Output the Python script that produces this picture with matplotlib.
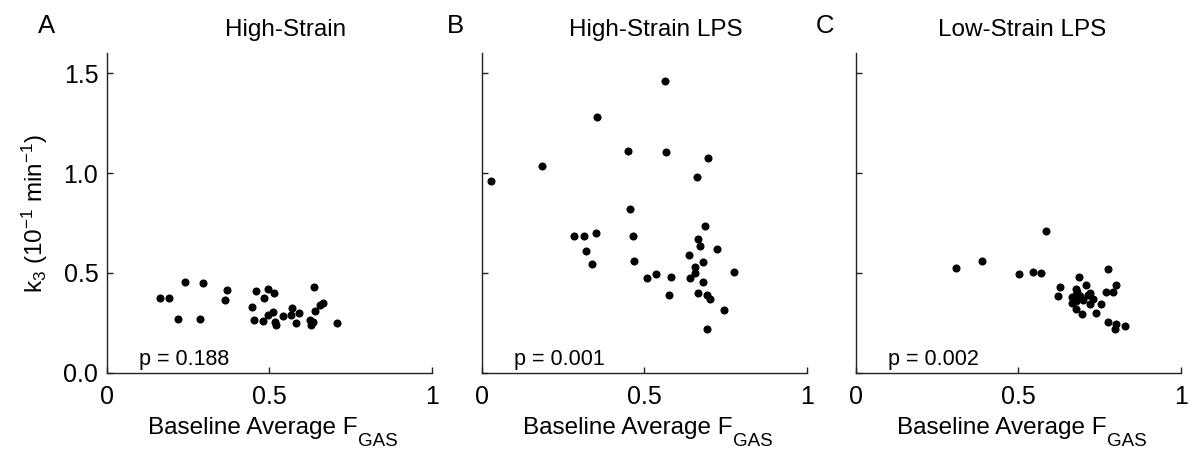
import matplotlib
matplotlib.use("Agg")
import matplotlib.pyplot as plt

plt.rcParams['font.family'] = ['Liberation Sans', 'DejaVu Sans']
plt.rcParams['mathtext.fontset'] = 'custom'
plt.rcParams['mathtext.rm'] = 'Liberation Sans'
plt.rcParams['mathtext.it'] = 'Liberation Sans:italic'
plt.rcParams['mathtext.bf'] = 'Liberation Sans:bold'

# ---- data ----
titles = ["High-Strain", "High-Strain LPS", "Low-Strain LPS"]
letters = ["A", "B", "C"]
p_values = ["p = 0.188", "p = 0.001", "p = 0.002"]

hs_x = [0.165, 0.193, 0.219, 0.241, 0.286, 0.296, 0.364, 0.370, 0.448, 0.452,
        0.459, 0.482, 0.484, 0.497, 0.497, 0.511, 0.515, 0.518, 0.520, 0.542,
        0.569, 0.566, 0.583, 0.593, 0.639, 0.640, 0.625, 0.630, 0.635, 0.656,
        0.667, 0.708]
hs_y = [0.372, 0.372, 0.267, 0.452, 0.270, 0.449, 0.365, 0.412, 0.327, 0.262,
        0.408, 0.260, 0.375, 0.418, 0.288, 0.305, 0.397, 0.255, 0.238, 0.285,
        0.322, 0.288, 0.248, 0.300, 0.427, 0.310, 0.263, 0.240, 0.255, 0.340,
        0.350, 0.250]

hsl_x = [0.028, 0.186, 0.354, 0.564, 0.451, 0.566, 0.695, 0.662, 0.456, 0.283,
         0.314, 0.351, 0.322, 0.338, 0.465, 0.470, 0.508, 0.536, 0.583, 0.577,
         0.638, 0.641, 0.655, 0.656, 0.666, 0.671, 0.686, 0.681, 0.681, 0.666,
         0.694, 0.702, 0.723, 0.692, 0.746, 0.776]
hsl_y = [0.962, 1.033, 1.282, 1.460, 1.110, 1.107, 1.078, 0.980, 0.818, 0.684,
         0.684, 0.699, 0.608, 0.547, 0.685, 0.560, 0.475, 0.492, 0.477, 0.389,
         0.592, 0.472, 0.527, 0.497, 0.672, 0.636, 0.735, 0.557, 0.453, 0.398,
         0.391, 0.368, 0.620, 0.217, 0.313, 0.505]

lsl_x = [0.308, 0.390, 0.585, 0.503, 0.546, 0.571, 0.776, 0.687, 0.630, 0.622,
         0.708, 0.802, 0.769, 0.792, 0.677, 0.720, 0.667, 0.689, 0.700, 0.730,
         0.664, 0.679, 0.720, 0.756, 0.679, 0.696, 0.738, 0.775, 0.802, 0.798,
         0.828, 0.682, 0.716, 0.677]
lsl_y = [0.522, 0.560, 0.712, 0.494, 0.505, 0.499, 0.517, 0.480, 0.428, 0.382,
         0.440, 0.437, 0.405, 0.404, 0.418, 0.397, 0.377, 0.383, 0.363, 0.367,
         0.350, 0.358, 0.342, 0.342, 0.317, 0.292, 0.300, 0.253, 0.242, 0.217,
         0.235, 0.404, 0.388, 0.388]

xs = [hs_x, hsl_x, lsl_x]
ys = [hs_y, hsl_y, lsl_y]

x_ticks = [0, 0.5, 1]
x_tick_labels = ["0", "0.5", "1"]
y_ticks = [0, 0.5, 1.0, 1.5]
y_tick_labels = ["0.0", "0.5", "1.0", "1.5"]

# ---- layout ----
W, H = 1189, 449
fig = plt.figure(figsize=(W / 100, H / 100), dpi=100)

x0s = [106.7, 481.7, 855.7]
ax_w = 325
ax_top, ax_bot = 53.3, 372.7
ax_h = ax_bot - ax_top
title_cx = [286, 656, 1022]
letter_x = [38, 447, 816]

for i in range(3):
    ax = fig.add_axes([x0s[i] / W, 1 - ax_bot / H, ax_w / W, ax_h / H])
    ax.plot(xs[i], ys[i], 'o', color='black', markersize=5.8, markeredgewidth=0)
    ax.set_xlim(0, 1)
    ax.set_ylim(0, 1.6)
    for s in ['top', 'right']:
        ax.spines[s].set_visible(False)
    for s in ['left', 'bottom']:
        ax.spines[s].set_linewidth(1.0)
        ax.spines[s].set_color('#222222')
    ax.set_xticks(x_ticks)
    ax.set_xticklabels(x_tick_labels)
    ax.set_yticks(y_ticks)
    if i == 0:
        ax.set_yticklabels(y_tick_labels)
    else:
        ax.set_yticklabels([])
    ax.tick_params(axis='both', direction='in', length=4, width=1.0,
                   labelsize=18, colors='#222222', labelcolor='black')
    ax.tick_params(axis='x', pad=9)
    ax.tick_params(axis='y', pad=6)
    # x label: main part + enlarged subscript
    split = 250.5 / ax_w
    ax.text(split, (ax_bot - 434) / ax_h, 'Baseline Average F', transform=ax.transAxes,
            ha='right', va='baseline', fontsize=17.5)
    ax.text(split + 0.002, (ax_bot - 446) / ax_h, 'GAS', transform=ax.transAxes,
            ha='left', va='baseline', fontsize=13.5)
    ax.text(0.10, 0.04, p_values[i], ha='left', va='baseline', fontsize=15.5)
    if i == 0:
        ax.text((43 - x0s[0]) / ax_w, 0.5, r'k$_3$ (10$^{-1}$ min$^{-1}$)',
                transform=ax.transAxes, rotation=90, rotation_mode='anchor',
                ha='center', va='baseline', fontsize=17.5)
    fig.text(title_cx[i] / W, 1 - 35.7 / H, titles[i], ha='center', va='baseline',
             fontsize=17.5)
    fig.text(letter_x[i] / W, 1 - 33.3 / H, letters[i], ha='left', va='baseline',
             fontsize=18.5)

fig.savefig("out.png", dpi=100)
